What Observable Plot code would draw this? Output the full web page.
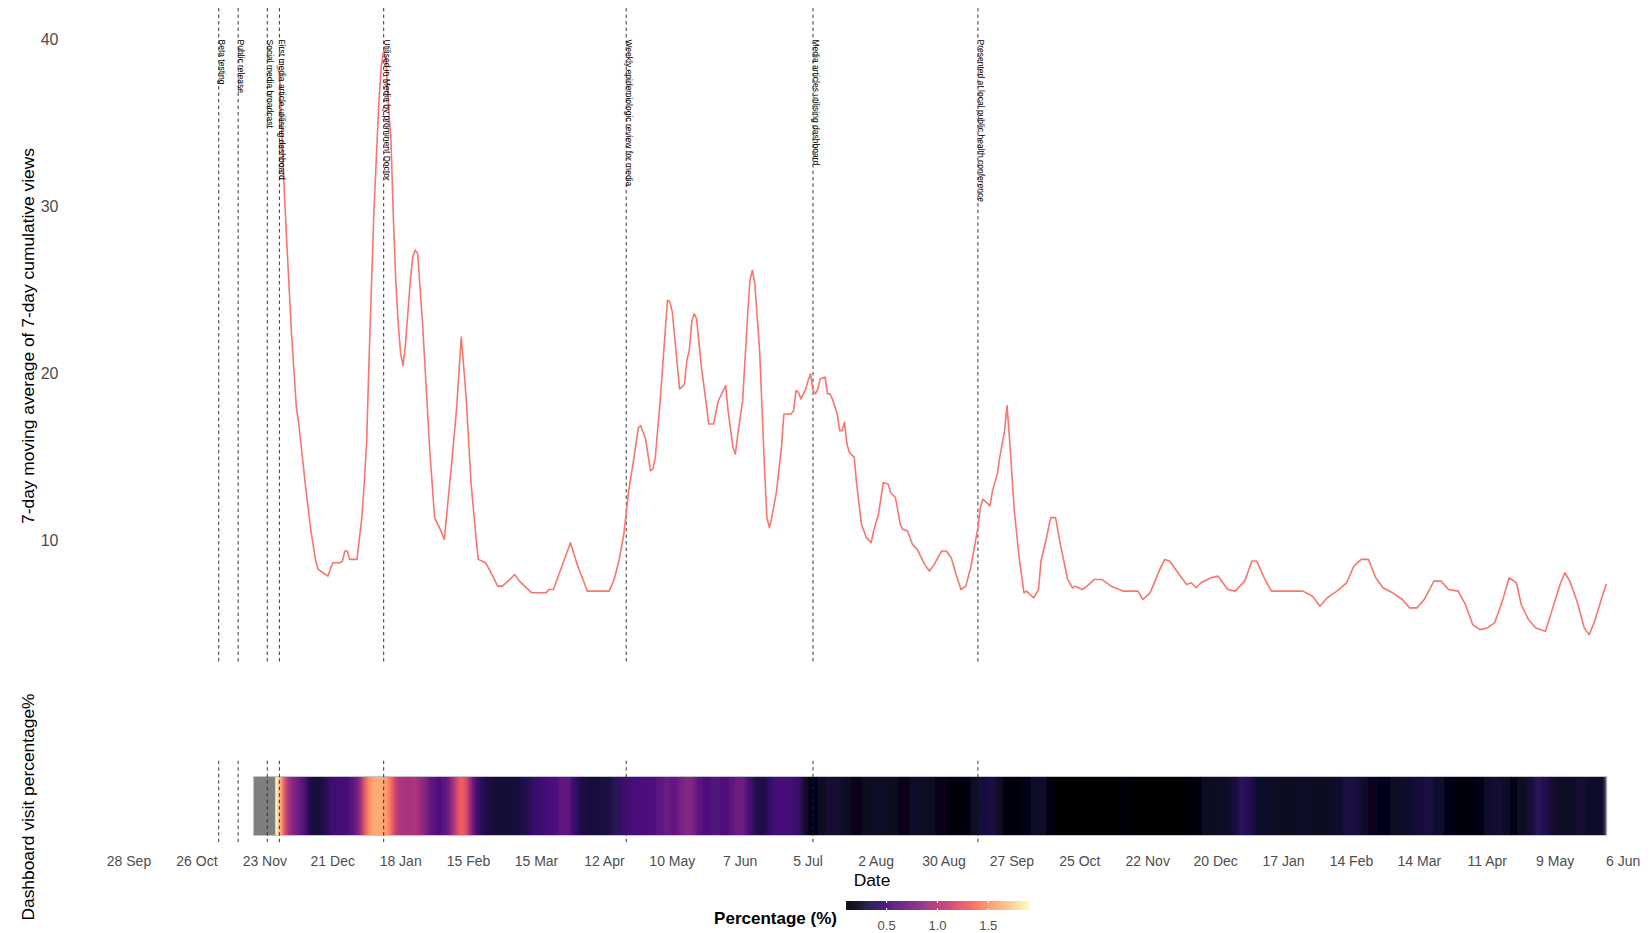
<!DOCTYPE html>
<html><head><meta charset="utf-8">
<script src="https://cdn.jsdelivr.net/npm/d3@7"></script>
<script src="https://cdn.jsdelivr.net/npm/@observablehq/plot@0.6"></script>
<style>
body{margin:0;background:#fff;}
#wrap{position:relative;width:1652px;height:933px;font-family:"Liberation Sans",Arial,sans-serif;background:#fff;overflow:hidden;}
#wrap svg{position:absolute;}
.lbl{position:absolute;white-space:nowrap;transform:translate(-50%,-50%);color:#000;font-size:17.4px;line-height:1;}
.rot{transform:translate(-50%,-50%) rotate(-90deg);}
</style></head><body><div id="wrap"></div>
<script>
// ---------- data (x = days since 2020-09-28) ----------
const dayZero = "2020-09-28";
const xDomain = ["2020-09-28", "2022-06-06"];
const tickDates = ["2020-09-28","2020-10-26","2020-11-23","2020-12-21","2021-01-18","2021-02-15","2021-03-15","2021-04-12","2021-05-10","2021-06-07","2021-07-05","2021-08-02","2021-08-30","2021-09-27","2021-10-25","2021-11-22","2021-12-20","2022-01-17","2022-02-14","2022-03-14","2022-04-11","2022-05-09","2022-06-06"];
const yTicks = [10, 20, 30, 40];

const eventDates = ["2020-11-04","2020-11-12","2020-11-24","2020-11-29","2021-01-11","2021-04-21","2021-07-07","2021-09-13"];
const eventLabels = ["Beta testing","Public release","Social media broadcast","First media article utilising dashboard","Utilised in Media by prominent Doctor","Weekly epidemiologic review for media","Media articles utilising dashboard","Presented at local public health conference"];
const eventLabelValue = 40;

// 7-day moving average of 7-day cumulative views: [day, value]
const viewsSeries = [
[61,38.4],[62,38.0],[64,31.0],[65,28.0],[67,22.4],[69,18.0],[70,17.0],[73,13.0],[75,10.6],[77,8.8],[78,8.3],[80,8.1],[82,7.9],[84,8.7],[87,8.7],[88,8.8],[89,9.4],[90,9.4],[91,8.9],[94,8.9],[96,11.4],[97,13.5],[98,16.0],[99,21.0],[101,29.8],[103,36.2],[104,38.4],[105,39.3],[106,38.7],[107,36.0],[108,34.0],[109,29.3],[110,25.5],[111,23.0],[112,21.2],[113,20.5],[114,21.8],[116,25.6],[117,27.0],[118,27.4],[119,27.2],[121,23.1],[123,18.0],[124,15.4],[126,11.4],[128,10.8],[130,10.1],[133,14.6],[135,17.8],[137,22.2],[139,18.6],[141,13.5],[143,10.3],[144,8.9],[147,8.7],[150,7.9],[152,7.3],[154,7.3],[157,7.7],[159,8.0],[161,7.6],[166,6.9],[172,6.9],[173,7.1],[175,7.1],[179,8.7],[182,9.9],[185,8.5],[189,7.0],[198,7.0],
[200,7.7],[202,8.8],[204,10.4],[206,13.0],[208,14.8],[210,16.8],[211,16.9],[213,16.1],[215,14.2],[216,14.3],[217,15.0],[219,18.4],[222,24.4],[223,24.3],[224,23.7],[227,19.1],[228,19.2],[229,19.4],[230,20.8],[231,21.4],[232,23.1],[233,23.6],[234,23.3],[236,20.4],[238,18.2],[239,17.0],[241,17.0],[243,18.4],[246,19.3],[247,17.8],[249,15.6],[250,15.2],[251,16.4],[253,18.4],[255,23.4],[256,25.6],[257,26.2],[258,25.4],[260,21.4],[262,14.4],[263,11.4],[264,10.8],[265,11.4],[267,13.0],[269,15.6],[270,17.6],[273,17.6],[274,17.8],[275,19.0],[276,18.9],[277,18.5],[279,19.1],[280,19.6],[281,20.0],[282,19.0],[283,18.8],[284,19.1],[285,19.7],[287,19.8],[288,18.8],[289,18.8],[290,18.5],[292,17.6],[293,16.6],[294,16.6],[295,17.1],[296,15.8],[297,15.3],[299,15.0],[300,13.4],[302,11.0],[304,10.2],[306,9.9],[307,10.6],[309,11.6],[311,13.5],[313,13.4],[314,12.9],[316,12.6],[318,11.0],[319,10.7],[321,10.6],[323,9.8],[325,9.5],[328,8.6],[330,8.2],[332,8.6],[335,9.4],[337,9.4],[339,9.0],[341,8.0],[343,7.1],[345,7.3],[347,8.4],[348,9.2],[350,10.8],[351,12.0],[352,12.5],[355,12.1],[356,13.0],[358,14.0],[359,15.0],[361,16.6],[362,18.1],[363,16.2],[365,11.8],[367,9.0],[369,6.9],[370,7.0],[373,6.6],[375,7.1],[376,8.8],[378,10.0],[380,11.4],[382,11.4],[384,9.8],[386,8.4],[387,7.7],[389,7.2],[390,7.3],[393,7.1],[395,7.3],[398,7.7],[401,7.7],
[405,7.3],[410,7.0],[416,7.0],[418,6.5],[421,6.9],[425,8.3],[427,8.9],[429,8.8],[433,8.0],[436,7.4],[438,7.5],[440,7.2],[442,7.5],[446,7.8],[449,7.9],[451,7.5],[453,7.1],[456,7.0],[460,7.6],[463,8.8],[465,8.8],[468,7.8],[471,7.0],[477,7.0],[484,7.0],[488,6.7],[491,6.1],[494,6.6],[498,7.0],[502,7.5],[505,8.5],[508,8.9],[511,8.9],[514,7.8],[517,7.2],[521,6.9],[525,6.5],[528,6.0],[531,6.0],[534,6.5],[538,7.6],[541,7.6],[544,7.1],[548,7.0],[551,6.2],[554,5.0],[557,4.7],[560,4.8],[563,5.1],[566,6.3],[569,7.8],[572,7.5],[574,6.2],[577,5.3],[580,4.8],[584,4.6],[587,6.0],[590,7.4],[592,8.1],[594,7.6],[597,6.4],[600,4.8],[602,4.4],[604,5.1],[607,6.5],[609,7.4]
];

// Dashboard visit percentage (%): [day, value]
const missingDays = [52,53,54,55,56,57,58,59,60];
const visitShare = [
[61,1.88],[62,1.70],[63,1.50],[64,1.28],[65,1.05],[66,0.92],[68,0.78],[70,0.68],[72,0.58],[74,0.40],[76,0.30],[78,0.29],[80,0.33],[82,0.41],[84,0.48],[86,0.50],[88,0.50],[90,0.52],[92,0.58],[94,0.66],[96,0.92],[98,1.35],[100,1.55],[102,1.60],[104,1.60],[106,1.55],[108,1.40],[109,1.25],[110,1.05],[112,0.98],[115,0.95],[118,0.97],[121,0.87],[123,0.72],[125,0.60],[128,0.55],[131,0.62],[133,0.80],[135,1.10],[137,1.33],[139,1.22],[141,0.80],[143,0.55],[145,0.40],[148,0.32],[152,0.29],[156,0.28],[160,0.30],[164,0.36],[168,0.46],[172,0.50],[176,0.55],[179,0.64],[181,0.64],[184,0.45],[187,0.33],[192,0.31],[197,0.32],[201,0.38],[204,0.48],[208,0.52],[212,0.55],[216,0.55],[219,0.62],[222,0.66],[225,0.64],[228,0.72],[230,0.80],[232,0.78],[235,0.60],[238,0.55],[242,0.56],[246,0.55],[249,0.62],[251,0.70],[253,0.68],[256,0.52],[259,0.35],[262,0.32],[265,0.46],[268,0.52],[272,0.52],[276,0.46],[279,0.22],[282,0.19],[286,0.22],[289,0.28],[292,0.27],[296,0.22],[300,0.20],[305,0.22],[310,0.24],[315,0.21],[320,0.20],[325,0.25],[330,0.22],[335,0.20],[340,0.16],[345,0.15],[349,0.22],[352,0.31],[356,0.32],[359,0.22],[362,0.14],[366,0.13],[370,0.18],[374,0.25],[377,0.24],[380,0.15],[385,0.12],[390,0.11],[395,0.11],[400,0.12],[405,0.12],[410,0.13],[415,0.12],[420,0.11],[425,0.11],[430,0.12],[435,0.11],[440,0.16],[445,0.22],[449,0.22],[453,0.24],[456,0.30],[459,0.38],[461,0.40],[463,0.32],[466,0.25],[470,0.24],[475,0.22],[480,0.23],[485,0.24],[490,0.22],[495,0.22],[499,0.26],[503,0.33],[506,0.32],[509,0.24],[513,0.20],[518,0.19],[522,0.22],[527,0.26],[532,0.30],[536,0.32],[540,0.26],[545,0.17],[549,0.13],[553,0.14],[557,0.18],[561,0.26],[564,0.28],[568,0.24],[571,0.18],[574,0.22],[578,0.30],[581,0.38],[584,0.36],[587,0.27],[591,0.23],[595,0.25],[599,0.27],[603,0.25],[606,0.24],[609,0.24]
];

const legendDomain = [0.105, 1.915];
const legendTicks = [0.5, 1.0, 1.5];

// ---------- build ----------
const t0 = Date.parse(dayZero + "T00:00:00Z");
const toDate = d => new Date(t0 + d * 864e5);
const parseDay = s => new Date(s + "T00:00:00Z");
const fontStack = '"Liberation Sans", Arial, sans-serif';

const lineData = viewsSeries.map(([d, v]) => ({date: toDate(d), value: v}));
const events = eventDates.map((d, i) => ({date: parseDay(d), label: eventLabels[i]}));
const heatCells = visitShare.map(([d, v], i, a) => ({
  start: toDate(i === 0 ? d - 0.5 : (a[i - 1][0] + d) / 2),
  end: toDate(i === a.length - 1 ? d + 0.5 : (d + a[i + 1][0]) / 2 + 0.4),
  value: v
}));
const naCells = [{start: toDate(missingDays[0] - 0.5), end: toDate(missingDays[missingDays.length - 1] + 0.5)}];
const stripOutline = [{start: naCells[0].start, end: toDate(visitShare[visitShare.length - 1][0] + 0.5)}];
const xScale = {type: "utc", domain: xDomain.map(parseDay)};
const wrap = document.getElementById("wrap");

const topPlot = Plot.plot({
  width: 1652, height: 670,
  marginLeft: 128.5, marginRight: 29.4, marginTop: 8, marginBottom: 8,
  x: {...xScale, axis: null},
  y: {domain: [2.732, 41.854], ticks: yTicks, tickSize: 0, tickPadding: 70.5, label: null},
  style: {fontFamily: fontStack, fontSize: "16px", color: "#4d4d4d", background: "transparent", overflow: "visible"},
  marks: [
    Plot.ruleX(events, {x: "date", stroke: "#222", strokeWidth: 0.9, strokeDasharray: "3.5,3"}),
    Plot.line(lineData, {x: "date", y: "value", stroke: "#F8766D", strokeWidth: 1.6}),
    Plot.text(events, {x: "date", y: () => eventLabelValue, text: "label", rotate: 90, textAnchor: "start", lineAnchor: "bottom", fontSize: 8.5, fill: "#000"})
  ]
});
topPlot.style.left = "0px"; topPlot.style.top = "0px";
wrap.appendChild(topPlot);

const bottomPlot = Plot.plot({
  width: 1652, height: 150,
  marginLeft: 128.5, marginRight: 29.4, marginTop: 10.7, marginBottom: 57,
  x: {...xScale, ticks: tickDates.map(parseDay), tickFormat: d3.utcFormat("%-d %b"), tickSize: 0, tickPadding: 13, label: null},
  color: {type: "linear", scheme: "magma", domain: legendDomain},
  style: {fontFamily: fontStack, fontSize: "14px", color: "#4d4d4d", background: "transparent", overflow: "visible"},
  marks: [
    Plot.rect(heatCells, {x1: "start", x2: "end", fill: "value", insetTop: 15.8, insetBottom: 7.5}),
    Plot.rect(naCells, {x1: "start", x2: "end", fill: "#7f7f7f", insetTop: 15.8, insetBottom: 7.5}),
    Plot.rect(stripOutline, {x1: "start", x2: "end", fill: "none", stroke: "#c4c2cc", strokeWidth: 1, insetTop: 15.8, insetBottom: 7.5}),
    Plot.ruleX(events, {x: "date", stroke: "#222", strokeWidth: 0.9, strokeDasharray: "3.5,3"})
  ]
});
// soften the cell boundaries horizontally (visual smoothing only)
(function () {
  const ns = "http://www.w3.org/2000/svg";
  const defs = document.createElementNS(ns, "defs");
  const filter = document.createElementNS(ns, "filter");
  filter.setAttribute("id", "hsoft");
  filter.setAttribute("filterUnits", "objectBoundingBox");
  filter.setAttribute("x", "0"); filter.setAttribute("y", "0");
  filter.setAttribute("width", "1"); filter.setAttribute("height", "1");
  const blur = document.createElementNS(ns, "feGaussianBlur");
  blur.setAttribute("stdDeviation", "2.2 0");
  blur.setAttribute("edgeMode", "duplicate");
  filter.appendChild(blur);
  defs.appendChild(filter);
  bottomPlot.insertBefore(defs, bottomPlot.firstChild);
  const g = bottomPlot.querySelector('g[aria-label="rect"]');
  if (g) g.setAttribute("filter", "url(#hsoft)");
})();
bottomPlot.style.left = "0px"; bottomPlot.style.top = "750px";
wrap.appendChild(bottomPlot);

const rampStep = 0.005;
const ramp = d3.range(legendDomain[0], legendDomain[1], rampStep);
const legendPlot = Plot.plot({
  width: 230, height: 40,
  marginLeft: 20, marginRight: 26, marginTop: 8, marginBottom: 23,
  x: {domain: legendDomain, ticks: legendTicks, tickFormat: d3.format(".1f"), tickSize: 0, tickPadding: 10.5, label: null},
  color: {type: "linear", scheme: "magma", domain: legendDomain},
  style: {fontFamily: fontStack, fontSize: "13px", color: "#4d4d4d", background: "transparent", overflow: "visible"},
  marks: [
    Plot.rect(ramp, {x1: d => d, x2: d => Math.min(d + rampStep * 1.6, legendDomain[1]), fill: d => d}),
    Plot.tickX(legendTicks, {x: d => d, stroke: "white", strokeWidth: 1, insetBottom: 7}),
    Plot.tickX(legendTicks, {x: d => d, stroke: "white", strokeWidth: 1, insetTop: 7})
  ]
});
legendPlot.style.left = "826px"; legendPlot.style.top = "893px";
wrap.appendChild(legendPlot);

function addLabel(text, x, y, rotate, extra) {
  const d = document.createElement("div");
  d.className = "lbl" + (rotate ? " rot" : "");
  d.textContent = text;
  d.style.left = x + "px"; d.style.top = y + "px";
  if (extra) Object.assign(d.style, extra);
  wrap.appendChild(d);
}
addLabel("7-day moving average of 7-day cumulative views", 28.5, 335.5, true);
addLabel("Dashboard visit percentage%", 28.5, 807, true);
addLabel("Date", 872, 881, false);
addLabel("Percentage (%)", 775.5, 918, false, {fontWeight: "bold", fontSize: "17px"});
</script></body></html>
